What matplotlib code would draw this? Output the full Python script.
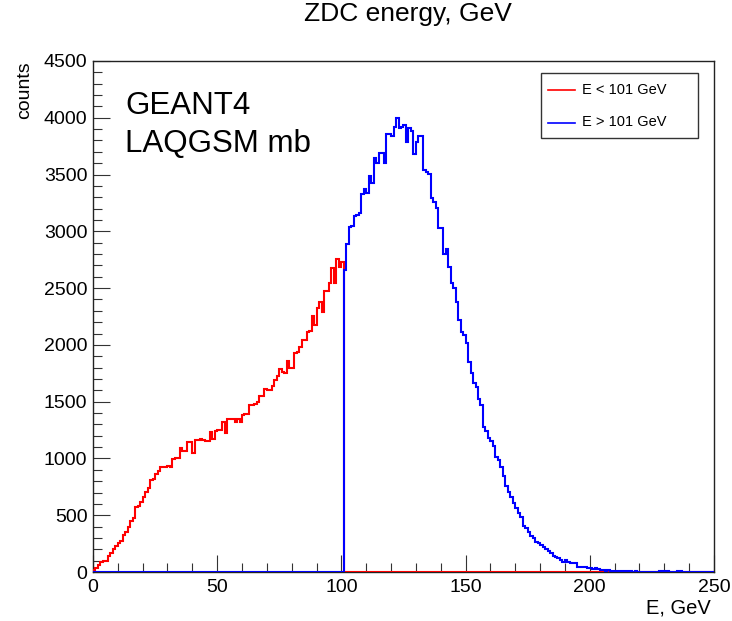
import numpy as np
import matplotlib
matplotlib.use("Agg")
import matplotlib.pyplot as plt
from matplotlib.lines import Line2D
from matplotlib.patches import Rectangle

plt.rcParams['font.family'] = ['Liberation Sans', 'DejaVu Sans']

# 1 GeV bins, 0..250 GeV
bin_edges = np.arange(0, 251, 1)
split_bin = 101

# counts for E < 101 GeV (bins 0..100)
red_counts = [
    18, 35, 62, 85, 97, 100, 144, 167, 200, 232,
    255, 276, 326, 355, 394, 452, 478, 570, 581, 620,
    663, 702, 737, 810, 819, 860, 892, 922, 925, 922,
    930, 925, 999, 1000, 1000, 1089, 1068, 1068, 1148, 1148,
    1051, 1162, 1162, 1170, 1165, 1150, 1150, 1235, 1175, 1240,
    1250, 1250, 1318, 1224, 1345, 1345, 1350, 1320, 1350, 1325,
    1385, 1390, 1395, 1470, 1475, 1480, 1495, 1553, 1553, 1611,
    1600, 1600, 1641, 1691, 1726, 1785, 1765, 1755, 1858, 1800,
    1795, 1931, 1940, 1984, 2043, 2043, 2116, 2122, 2257, 2175,
    2328, 2380, 2292, 2474, 2474, 2542, 2674, 2542, 2756, 2688, 2732,
]

# counts for E > 101 GeV (bins 101..249)
blue_counts = [
    2660, 2886, 3042, 3050, 3138, 3140, 3165, 3326, 3370, 3340,
    3487, 3423, 3648, 3598, 3686, 3690, 3605, 3854, 3854, 3835,
    3922, 3995, 3910, 3922, 3937, 3784, 3907, 3880, 3681, 3784,
    3842, 3842, 3540, 3525, 3505, 3291, 3261, 3203, 3027, 3027,
    2797, 2840, 2688, 2542, 2498, 2380, 2219, 2116, 2087, 2014,
    1852, 1750, 1662, 1632, 1520, 1471, 1280, 1244, 1177, 1150,
    1112, 1015, 986, 922, 848, 757, 707, 658, 605, 560,
    517, 487, 405, 385, 355, 317, 297, 267, 252, 238,
    220, 200, 188, 164, 144, 129, 120, 106, 85, 106,
    91, 76, 76, 76, 47, 41, 40, 42, 38, 32,
    30, 33, 23, 22, 20, 12, 14, 10, 12, 9,
    11, 8, 7, 6, 5, 6, 4, 5, 3, 4,
    3, 4, 2, 3, 2, 2, 3, 8, 10, 5,
    6, 3, 2, 4, 6, 10, 2, 1, 2, 1,
    1, 0, 1, 1, 0, 0, 1, 0, 0,
]

legend_labels = ['E < 101 GeV', 'E > 101 GeV']

n_bins = len(bin_edges) - 1
red_full = np.zeros(n_bins)
red_full[:split_bin] = red_counts
blue_full = np.zeros(n_bins)
blue_full[split_bin:] = blue_counts

fig = plt.figure(figsize=(7.32, 6.21), dpi=100)
ax = fig.add_axes([0.127, 0.0789, 0.8484, 0.8229])

ax.stairs(red_full, bin_edges, color='#ff0000', lw=1.5, zorder=3)
ax.stairs(blue_full, bin_edges, color='#0000ff', lw=1.5, zorder=4)

ax.set_xlim(0, 250)
ax.set_ylim(0, 4500)
ax.set_xticks(np.arange(0, 251, 50))
ax.set_xticks(np.arange(0, 251, 10), minor=True)
ax.set_yticks(np.arange(0, 4501, 500))
ax.set_yticks(np.arange(0, 4501, 100), minor=True)
ax.tick_params(which='both', direction='in', top=False, right=False,
               labelsize=14, color='#333333', width=0.8)
ax.tick_params(which='major', length=12.5)
ax.tick_params(which='minor', length=6.5)
ax.tick_params(axis='y', pad=4)
ax.tick_params(axis='x', pad=5)
for s in ax.spines.values():
    s.set_linewidth(1.0)
    s.set_color('#222222')

ax.set_ylabel('counts', loc='top', fontsize=14)
ax.yaxis.set_label_coords(-0.097, 1.0)
ax.set_xlabel('E, GeV', loc='right', fontsize=14.5)
ax.xaxis.set_label_coords(0.995, -0.051)

fig.text(0.557, 1 - 21 / 621, 'ZDC energy, GeV', ha='center', va='baseline', fontsize=19)

ax.text(0.0515, 0.896, 'GEANT4', transform=ax.transAxes, fontsize=22.5, va='baseline')
ax.text(0.0515, 0.822, 'LAQGSM mb', transform=ax.transAxes, fontsize=22.5, va='baseline')

# legend box drawn like the ROOT TLegend
W, H = 732, 621
fig.add_artist(Rectangle((541 / W, 1 - 138 / H), 157 / W, 65 / H,
                         transform=fig.transFigure, fill=False,
                         edgecolor='#333333', lw=1.0))
for row_y, col, lab in zip([89.5, 122.5], ['#ff0000', '#0000ff'], legend_labels):
    fig.add_artist(Line2D([548 / W, 575 / W], [1 - row_y / H, 1 - row_y / H],
                          transform=fig.transFigure, color=col, lw=1.2))
    fig.text(582 / W, 1 - row_y / H, lab, ha='left', va='center', fontsize=10.5)

fig.savefig('out.png', dpi=100)
